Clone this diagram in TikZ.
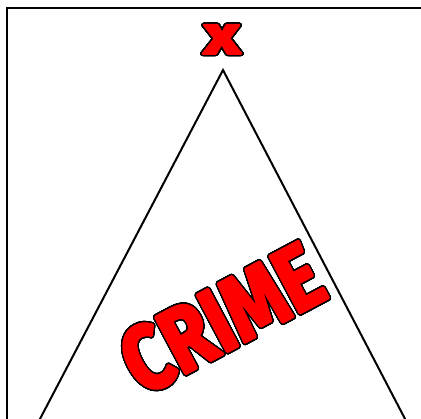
\documentclass[tikz,border=0pt]{standalone}
\usepackage{fontspec}
\usepackage[copies]{contour}
\newfontfamily\crimefont{Fira Sans}
\contournumber{40}
% fatten the glyphs: fill and stroke in the current colour, #1 stroke width (pt)
\newcommand\fatten[1]{\special{pdf:literal direct 2 Tr #1 w 1 j 1 J}}
\tikzset{
  frameline/.style={line width=2.6pt, line cap=rect},
  tentline/.style={line width=2pt},
  outlinedtext/.style={inner sep=0pt, text=red}
}
\begin{document}
\begin{tikzpicture}[x=1pt,y=-1pt]
\useasboundingbox (0,0) rectangle (421,419);
\clip (0,0) rectangle (421,419);
\fill[white] (0,0) rectangle (421,419);
\draw[frameline] (7,440) -- (7,8) -- (440,8);
\coordinate (apex) at (223,70);
\coordinate (bl) at (30,438);
\coordinate (br) at (415,438);
\draw[tentline] (bl) -- (apex) -- (br);
\node[outlinedtext, xscale=1.3] (mark) at (222,40)
  {\contourlength{1.3pt}\contour{black}{\crimefont\bfseries\fontsize{54}{54}\selectfont\fatten{2.4}x}};
\node[outlinedtext, rotate=28, xscale=0.83] (crime) at (222,319)
  {\contourlength{1.5pt}\contour{black}{\crimefont\bfseries\fontsize{92}{92}\selectfont\fatten{3.2}CRIME}};
\end{tikzpicture}
\end{document}
